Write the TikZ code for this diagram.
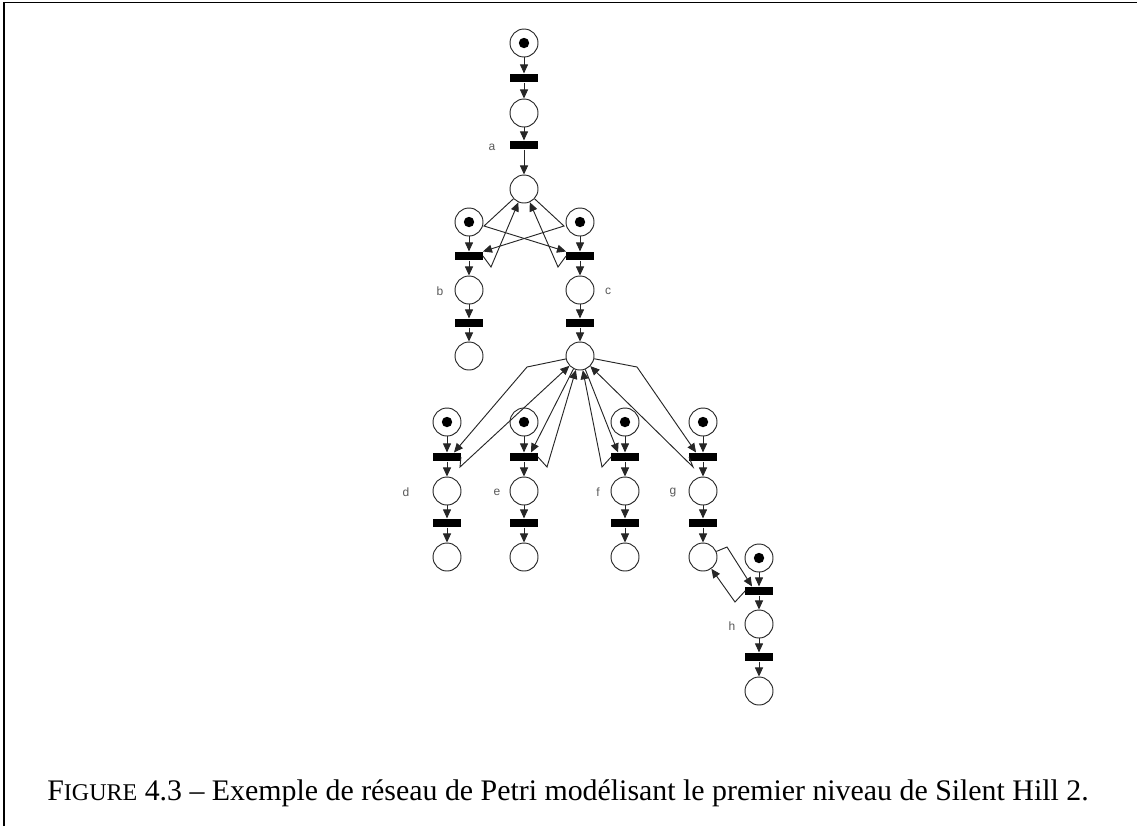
\documentclass[tikz,border=0pt]{standalone}
\usepackage{fontspec}
\setmainfont{Liberation Serif}
\newfontfamily\labelfont{Liberation Sans}
\usetikzlibrary{arrows.meta,calc}

\tikzset{
  place/.style={circle,draw=black!85,line width=0.7pt,minimum size=21pt,inner sep=0pt},
  marked/.style={place,path picture={\fill (path picture bounding box.center) circle (3.9pt);}},
  trans/.style={rectangle,fill=black,minimum width=20.5pt,minimum height=6.4pt,inner sep=0pt},
  arc/.style={draw=black!85,line width=0.7pt,-{Triangle[length=6.8pt,width=6pt]}},
  tlabel/.style={font=\labelfont\fontsize{9pt}{10pt}\selectfont,text=black!65}
}

\begin{document}
\begin{tikzpicture}[x=0.75pt,y=0.75pt,yscale=-1,xscale=1]
\useasboundingbox (0,0) rectangle (1137,826);

% frame
\draw[line width=1.1pt] (4,826) -- (4,2.5) -- (1137,2.5);

% upper chain
\node[marked] (p1) at (524,43) {};
\node[trans] (t1) at (524,78) {};
\node[place] (p2) at (524,113) {};
\node[trans] (t2) at (524,145) {};
\node[place] (p3) at (524,189) {};
\node[tlabel] (la) at (492,147) {a};

% branches b and c
\node[marked] (pl) at (469,222) {};
\node[marked] (pr) at (580,222) {};
\node[trans] (tb) at (469,256) {};
\node[trans] (tc) at (580,256) {};
\node[place] (pb) at (469,290) {};
\node[place] (pc) at (580,290) {};
\node[tlabel] (lb) at (440,291) {b};
\node[tlabel] (lc) at (608,291) {c};
\node[trans] (tb2) at (469,323) {};
\node[trans] (tc2) at (580,323) {};
\node[place] (pb2) at (469,356) {};
\node[place] (hub) at (580,356) {};

% branches d, e, f, g
\foreach \n/\x in {d/447,e/524,f/625,g/703}{
  \node[marked] (m\n) at (\x,422) {};
  \node[trans] (t\n) at (\x,457) {};
  \node[place] (p\n) at (\x,491) {};
  \node[trans] (t\n2) at (\x,523) {};
  \node[place] (p\n2) at (\x,557) {};
  \draw[arc] (m\n) -- (t\n);
  \draw[arc] (t\n) -- (p\n);
  \draw[arc] (p\n) -- (t\n2);
  \draw[arc] (t\n2) -- (p\n2);
}
\node[tlabel] (ld) at (406,492) {d};
\node[tlabel] (le) at (497,492) {e};
\node[tlabel] (lf) at (598,492) {f};
\node[tlabel] (lg) at (673,493) {g};

% branch h
\node[marked] (mh) at (759,558) {};
\node[trans] (th) at (759,591) {};
\node[place] (ph) at (759,624) {};
\node[trans] (th2) at (759,657) {};
\node[place] (ph2) at (759,691) {};
\node[tlabel] (lh) at (732,626) {h};

% bends
\coordinate (kl) at (484,226);
\coordinate (kr) at (564,226);
\coordinate (jl) at (491,267);
\coordinate (jr) at (558,267);
\coordinate (kd) at (527,367);
\coordinate (kg) at (637,367);
\coordinate (jd) at (460,467);
\coordinate (je) at (547,467);
\coordinate (jf) at (602,467);
\coordinate (jg) at (693,467);
\coordinate (kh) at (727,547);
\coordinate (jh) at (735,602);

% straight arcs
\draw[arc] (p1) -- (t1);
\draw[arc] (t1) -- (p2);
\draw[arc] (p2) -- (t2);
\draw[arc] (t2) -- (p3);
\draw[arc] (pl) -- (tb);
\draw[arc] (pr) -- (tc);
\draw[arc] (tb) -- (pb);
\draw[arc] (tc) -- (pc);
\draw[arc] (pb) -- (tb2);
\draw[arc] (pc) -- (tc2);
\draw[arc] (tb2) -- (pb2);
\draw[arc] (tc2) -- (hub);
\draw[arc] (mh) -- (th);
\draw[arc] (th) -- (ph);
\draw[arc] (ph) -- (th2);
\draw[arc] (th2) -- (ph2);

% read arcs on p3
\draw[arc] (p3) -- (kr) -- (tb.north east);
\draw[arc] (p3) -- (kl) -- (tc.north west);
\draw[arc] (tb.east) -- (jl) -- (p3);
\draw[arc] (tc.west) -- (jr) -- (p3);

% read arcs on hub
\draw[arc] (hub) -- (kd) -- ($(td.north)!0.5!(td.north east)$);
\draw[arc] (hub) -- ($(te.north)!0.5!(te.north east)$);
\draw[arc] (hub) -- ($(tf.north)!0.5!(tf.north west)$);
\draw[arc] (hub) -- (kg) -- ($(tg.north)!0.5!(tg.north west)$);
\draw[arc] (td.east) -- (jd) -- (hub);
\draw[arc] (te.east) -- (je) -- (hub);
\draw[arc] (tf.west) -- (jf) -- (hub);
\draw[arc] (tg.west) -- (jg) -- (hub);

% read arc on pg2
\draw[arc] (pg2) -- (kh) -- ($(th.north)!0.5!(th.north west)$);
\draw[arc] (th.west) -- (jh) -- (pg2);

% caption
\node[font=\fontsize{22.4pt}{26pt}\selectfont] (cap) at (568,793)
  {F{\fontsize{18pt}{21pt}\selectfont IGURE} 4.3 -- Exemple de réseau de Petri modélisant le premier niveau de Silent Hill 2.};
\end{tikzpicture}
\end{document}
